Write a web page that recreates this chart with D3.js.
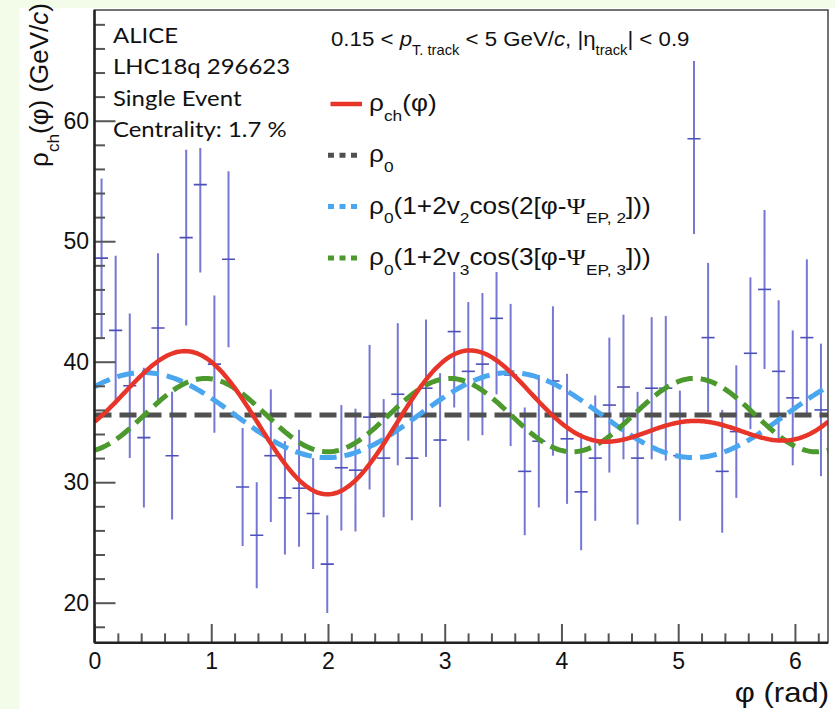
<!DOCTYPE html>
<html>
<head>
<meta charset="utf-8">
<script src="https://d3js.org/d3.v7.min.js"></script>
<style>
body { margin: 0; background: #fff; }
svg { display: block; }
</style>
</head>
<body>
<div id="chart"></div>
<script>
// rho_ch(phi) of a single event, 52 bins over 0..2pi
var binValues = [48.6, 42.6, 38.0, 33.7, 42.8, 32.2, 50.3, 54.7, 39.8, 48.5,
	29.6, 25.6, 32.2, 28.7, 29.5, 27.4, 23.2, 31.2, 31.0, 35.4,
	32.0, 37.3, 32.0, 37.8, 33.5, 42.5, 39.2, 39.8, 43.6, 38.9,
	30.9, 33.4, 38.4, 33.6, 29.2, 32.0, 36.4, 37.9, 32.0, 37.8,
	37.8, 32.2, 58.5, 42.0, 30.9, 34.2, 40.7, 46.0, 39.2, 37.0,
	42.0, 36.0];
var binErrors = [6.6, 6.2, 6.0, 5.8, 6.2, 5.3, 7.3, 7.3, 5.7, 7.3,
	4.9, 4.4, 5.5, 4.7, 4.85, 4.6, 4.05, 5.2, 5.1, 6.0,
	4.9, 5.9, 5.15, 5.7, 5.55, 6.3, 5.75, 5.9, 6.3, 5.9,
	5.3, 5.5, 6.2, 5.4, 4.85, 5.2, 5.6, 6.0, 5.5, 5.9,
	6.0, 5.4, 7.9, 6.2, 5.1, 5.5, 6.3, 6.6, 5.9, 5.6,
	6.5, 5.5];

// fit parameters
var rho0 = 35.57;
var v2 = 0.0496, psi2 = 0.42;
var v3 = 0.0428, psi3 = 0.95;

var xTicks = [0, 1, 2, 3, 4, 5, 6];
var yTicks = [20, 30, 40, 50, 60];
var infoLines = ["ALICE", "LHC18q 296623", "Single Event", "Centrality: 1.7 %"];

var width = 835, height = 709;
var frame = {left: 94.5, right: 828, top: 10, bottom: 642.7};
var TWO_PI = 2 * Math.PI;
var helv = "'Liberation Sans', Arial, sans-serif";

var svg = d3.select("#chart").append("svg")
	.attr("width", width)
	.attr("height", height)
	.style("font-family", helv);

// slide background strips
svg.append("rect").attr("x", 0).attr("y", 0).attr("width", width).attr("height", height).attr("fill", "#fff");
svg.append("rect").attr("x", 0).attr("y", 0).attr("width", 19.5).attr("height", height).attr("fill", "#f3fce8");
svg.append("rect").attr("x", 0).attr("y", 0).attr("width", width).attr("height", 8).attr("fill", "#f3fce8");

var x = d3.scaleLinear().domain([0, TWO_PI]).range([frame.left, frame.right]);
var y = d3.scaleLinear().domain([16.68, 69.19]).range([frame.bottom, frame.top]);

svg.append("clipPath").attr("id", "plotclip").append("rect")
	.attr("x", frame.left).attr("y", frame.top)
	.attr("width", frame.right - frame.left).attr("height", frame.bottom - frame.top);

var plot = svg.append("g").attr("clip-path", "url(#plotclip)");

// histogram with error bars
var binWidth = TWO_PI / binValues.length;
var bins = binValues.map(function(v, i){
	return {lo: i * binWidth, hi: (i + 1) * binWidth, mid: (i + 0.5) * binWidth, value: v, err: binErrors[i]};
});

plot.selectAll("line.ey")
	.data(bins)
	.enter()
	.append("line")
	.attr("class", "ey")
	.attr("x1", function(d){ return x(d.mid); })
	.attr("x2", function(d){ return x(d.mid); })
	.attr("y1", function(d){ return y(d.value - d.err); })
	.attr("y2", function(d){ return y(d.value + d.err); })
	.attr("stroke", "#7478d4")
	.attr("stroke-width", 2);

plot.selectAll("line.ex")
	.data(bins)
	.enter()
	.append("line")
	.attr("class", "ex")
	.attr("x1", function(d){ return x(d.lo) + 0.5; })
	.attr("x2", function(d){ return x(d.hi) - 0.5; })
	.attr("y1", function(d){ return y(d.value); })
	.attr("y2", function(d){ return y(d.value); })
	.attr("stroke", "#4d50b8")
	.attr("stroke-width", 1.6);

// white boxes of the text panes sit on top of the bars
var panes = [
	{x: 96, y: 12, w: 195, h: 136},
	{x: 325, y: 12, w: 375, h: 49},
	{x: 325, y: 61, w: 337, h: 211}
];
plot.selectAll("rect.pane")
	.data(panes)
	.enter()
	.append("rect")
	.attr("class", "pane")
	.attr("x", function(d){ return d.x; })
	.attr("y", function(d){ return d.y; })
	.attr("width", function(d){ return d.w; })
	.attr("height", function(d){ return d.h; })
	.attr("fill", "#fff");

// fit curves
var phis = d3.range(0, 401).map(function(i){ return i / 400 * TWO_PI; });
var fits = [
	{name: "rho0", color: "#505050", dash: "17,8", f: function(p){ return rho0; }},
	{name: "v2", color: "#4aa6ee", dash: "17,8", f: function(p){ return rho0 * (1 + 2 * v2 * Math.cos(2 * (p - psi2))); }},
	{name: "v3", color: "#4c9a2e", dash: "17,8", f: function(p){ return rho0 * (1 + 2 * v3 * Math.cos(3 * (p - psi3))); }},
	{name: "full", color: "#e8352a", dash: null, f: function(p){
		return rho0 * (1 + 2 * v2 * Math.cos(2 * (p - psi2)) + 2 * v3 * Math.cos(3 * (p - psi3)));
	}}
];

fits.forEach(function(fit){
	var line = d3.line()
		.x(function(p){ return x(p); })
		.y(function(p){ return y(fit.f(p)); });
	plot.append("path")
		.attr("d", line(phis))
		.attr("fill", "none")
		.attr("stroke", fit.color)
		.attr("stroke-width", fit.dash ? 5 : 4.5)
		.attr("stroke-dasharray", fit.dash);
});

// axes
var xMinor = d3.range(0, 32).map(function(i){ return i * 0.2; }).filter(function(v){ return v <= TWO_PI && Math.abs(v - Math.round(v)) > 0.01; });
var yMinor = d3.range(18, 70, 2).filter(function(v){ return v % 10 != 0; });

svg.append("g")
	.attr("transform", "translate(0," + frame.bottom + ")")
	.call(d3.axisBottom(x).tickValues(xTicks).tickSize(-18.7).tickSizeOuter(0).tickPadding(10).tickFormat(d3.format("d")));
svg.append("g")
	.attr("transform", "translate(0," + frame.bottom + ")")
	.call(d3.axisBottom(x).tickValues(xMinor).tickSize(-9.3).tickSizeOuter(0).tickFormat(""));

svg.append("g")
	.attr("transform", "translate(" + frame.left + ",0)")
	.call(d3.axisLeft(y).tickValues(yTicks).tickSize(-21).tickSizeOuter(0).tickPadding(5.5).tickFormat(d3.format("d")));
svg.append("g")
	.attr("transform", "translate(" + frame.left + ",0)")
	.call(d3.axisLeft(y).tickValues(yMinor).tickSize(-10.5).tickSizeOuter(0).tickFormat(""));

svg.selectAll(".domain").remove();
svg.selectAll(".tick line").attr("stroke", "#555").attr("stroke-width", 2);
svg.selectAll(".tick text").attr("font-family", helv).attr("font-size", 23).attr("fill", "#111");

// frame
svg.append("rect")
	.attr("x", frame.left).attr("y", frame.top)
	.attr("width", frame.right - frame.left).attr("height", frame.bottom - frame.top)
	.attr("fill", "none").attr("stroke", "#444").attr("stroke-width", 1.5);
svg.append("line")
	.attr("x1", frame.left).attr("x2", frame.left).attr("y1", frame.top).attr("y2", frame.bottom)
	.attr("stroke", "#222").attr("stroke-width", 2.5);
svg.append("line")
	.attr("x1", frame.left).attr("x2", frame.right).attr("y1", frame.bottom).attr("y2", frame.bottom)
	.attr("stroke", "#222").attr("stroke-width", 2.5);

// text with sub/italic pieces, placed in a group that may be stretched sideways
function richText(parent, px, py, size, stretch, parts, anchor){
	var g = parent.append("g")
		.attr("transform", "translate(" + px + "," + py + ") scale(" + stretch + ",1)");
	var t = g.append("text")
		.attr("x", 0)
		.attr("y", 0)
		.attr("font-size", size)
		.attr("fill", "#111")
		.attr("text-anchor", anchor || "start");
	var cur = 0;
	parts.forEach(function(p){
		var shift = p.sub ? size * 0.42 : 0;
		var ts = t.append("tspan").attr("dy", shift - cur).text(p.t);
		if (p.sub) ts.attr("font-size", size * 0.66);
		if (p.it) ts.attr("font-style", "italic");
		if (p.serif) ts.attr("font-family", "'Liberation Serif', serif");
		cur = shift;
	});
	return t;
}

// axis titles
richText(svg.append("g").attr("transform", "translate(48,3) rotate(-90)"), 0, 0, 26, 1, [
	{t: "\u03c1"}, {t: "ch", sub: true}, {t: "(\u03c6) (GeV/"}, {t: "c", it: true}, {t: ")"}
], "end");
richText(svg, 829, 702, 27, 1.15, [{t: "\u03c6 (rad)"}], "end");

// info block
var info = svg.append("g").attr("transform", "translate(113,0) scale(1.14,1)");
info.selectAll("text.info")
	.data(infoLines)
	.enter()
	.append("text")
	.attr("class", "info")
	.attr("x", 0)
	.attr("y", function(d, i){ return 43 + i * 31.3; })
	.attr("font-family", "Lato, 'Open Sans', sans-serif")
	.attr("font-size", 21)
	.attr("fill", "#111")
	.text(function(d){ return d; });

// legend
richText(svg, 331, 46, 21, 1.06, [
	{t: "0.15 < "}, {t: "p", it: true}, {t: "T. track", sub: true}, {t: " < 5 GeV/"}, {t: "c", it: true},
	{t: ", |\u03b7"}, {t: "track", sub: true}, {t: "| < 0.9"}
]);

var legendRows = [
	{color: "#e8352a", solid: true, parts: [{t: "\u03c1"}, {t: "ch", sub: true}, {t: "(\u03c6)"}]},
	{color: "#505050", solid: false, parts: [{t: "\u03c1"}, {t: "0", sub: true}]},
	{color: "#4aa6ee", solid: false, parts: [{t: "\u03c1"}, {t: "0", sub: true}, {t: "(1+2v"}, {t: "2", sub: true},
		{t: "cos(2[\u03c6-"}, {t: "\u03a8", serif: true}, {t: "EP, 2", sub: true}, {t: "]))"}]},
	{color: "#4c9a2e", solid: false, parts: [{t: "\u03c1"}, {t: "0", sub: true}, {t: "(1+2v"}, {t: "3", sub: true},
		{t: "cos(3[\u03c6-"}, {t: "\u03a8", serif: true}, {t: "EP, 3", sub: true}, {t: "]))"}]}
];

legendRows.forEach(function(row, i){
	var cy = 104 + i * 51.3;
	svg.append("line")
		.attr("x1", row.solid ? 330.5 : 328)
		.attr("x2", row.solid ? 362 : 357)
		.attr("y1", cy).attr("y2", cy)
		.attr("stroke", row.color)
		.attr("stroke-width", row.solid ? 4.5 : 5)
		.attr("stroke-dasharray", row.solid ? null : "6,5.5");
	richText(svg, 369, cy + 7, 23, 1.14, row.parts);
});
</script>
</body>
</html>
